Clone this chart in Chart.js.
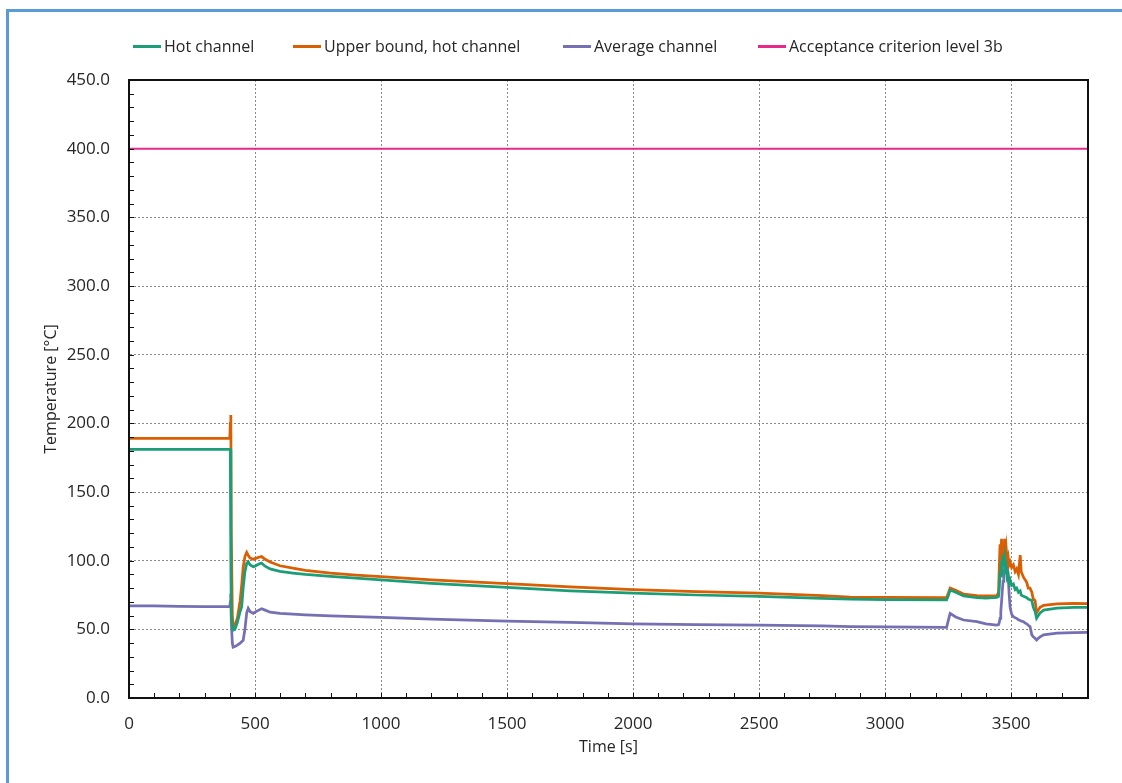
<!DOCTYPE html>
<html>
<head>
<meta charset="utf-8">
<script src="https://cdn.jsdelivr.net/npm/chart.js@4.4.1/dist/chart.umd.min.js"></script>
<style>
  html, body { margin: 0; padding: 0; background: #ffffff; overflow: hidden; }
  #wrap { position: relative; width: 1122px; height: 783px; }
  #frame { position: absolute; left: 6px; top: 9px; width: 1300px; height: 1000px; border: 3px solid #5b9bd5; box-sizing: border-box; pointer-events: none; }
  #legend { position: absolute; top: 0; left: 0; width: 1122px; height: 60px; font-family: "Open Sans", sans-serif; font-size: 16px; color: #262626; }
  .item { position: absolute; top: 35px; display: flex; align-items: center; white-space: nowrap; height: 22px; }
  .swatch { display: inline-block; width: 28px; height: 3px; margin-right: 3px; }
</style>
</head>
<body>
<div id="wrap">
  <canvas id="c" width="1122" height="783"></canvas>
  <div id="legend"></div>
  <div id="frame"></div>
</div>
<script>
// ---- data ----
const timeS = [0, 100, 200, 300, 400, 402, 404, 406, 410, 413, 420, 430, 441, 447, 453, 460, 467, 473, 480, 493, 500, 515, 526, 540, 560, 599, 650, 700, 800, 900, 1000, 1200, 1500, 1750, 2000, 2250, 2500, 2750, 2861, 3000, 3244, 3250, 3258, 3280, 3311, 3364, 3400,
  3443, 3450, 3453, 3456, 3459, 3462, 3465, 3468, 3471, 3474, 3477, 3480, 3484, 3488, 3492, 3496, 3502, 3509, 3516, 3522, 3529, 3536, 3540, 3549, 3556, 3562, 3568, 3575, 3582, 3588, 3595, 3601, 3608, 3615, 3629, 3682, 3750, 3805];

const hotChannel = [181, 181, 181, 181, 181, 181, 100, 60, 52, 49.5, 50, 55, 63, 66.5, 80, 92, 98, 99.2, 97, 95.6, 96, 97.5, 98.3, 96, 94, 92.2, 91, 90, 88.5, 87.3, 86, 83.5, 80.5, 78, 76.3, 75, 74, 72.5, 72, 71.7, 71.4, 74, 78.6, 77, 74.3, 73, 72.8,
  73.3, 74, 80, 92, 88, 100, 96, 104, 98, 102, 94, 96, 88, 90, 84, 86, 82, 83, 79, 80, 77, 78, 75, 74, 73.5, 73, 72, 71.5, 71, 66, 63, 58, 60, 62, 64, 65.5, 66, 66];

const upperBoundHot = [189, 189, 189, 189, 189, 200, 206, 120, 60, 52, 53, 58, 71, 82, 95, 103, 106, 104, 102, 101, 101.5, 102.5, 103, 101, 99, 96.3, 94.5, 93, 91, 89.5, 88.3, 86, 83.3, 81, 79, 77.5, 76.3, 74.5, 73.5, 73.3, 73, 76, 80, 78.5, 75.7, 74.5, 74.3,
  74.3, 77, 95, 112, 100, 116, 104, 113, 101, 116, 106, 110, 100, 103, 97, 99, 95, 97, 92, 94, 90, 104, 92, 88, 86, 84, 80, 80, 77, 72, 71, 62, 64, 66, 67.5, 68.5, 68.9, 68.8];

const averageChannel = [67, 67, 66.8, 66.6, 66.5, 70, 76, 55, 40, 37, 37.5, 38.5, 40, 41, 42, 50, 62, 65.3, 63, 61.6, 62.5, 64, 65, 64, 62.5, 61.7, 61, 60.5, 59.8, 59.2, 58.7, 57.5, 56, 55, 54, 53.5, 53, 52.5, 52, 51.8, 51.5, 56, 61.6, 59, 56.8, 55.6, 54,
  53.1, 53.5, 55, 58, 63, 70, 78, 85, 90, 94, 96, 98, 96, 90, 76, 66, 61, 59.2, 58.5, 58, 57, 56.5, 56, 55.6, 54.5, 54, 53, 52, 46, 44.5, 43.5, 42.2, 43.5, 44.5, 46, 47.2, 47.6, 47.8];

const criterionTime = [0, 3805];
const criterionTemp = [400, 400];

const seriesLabels = ["Hot channel", "Upper bound, hot channel", "Average channel", "Acceptance criterion level 3b"];
const seriesColors = ["#1b9e77", "#d95f02", "#7570b3", "#e7298a"];

const xTickValues = [0, 500, 1000, 1500, 2000, 2500, 3000, 3500];
const yTickValues = [0, 50, 100, 150, 200, 250, 300, 350, 400, 450];

// ---- build ----
const pts = (xs, ys) => xs.map((x, i) => ({ x: x, y: ys[i] }));

const FONT = '"Open Sans", sans-serif';
const TXT = '#262626';

const frameAndMinorTicks = {
  id: 'frameAndMinorTicks',
  afterDraw(chart) {
    const { ctx, chartArea: a, scales } = chart;
    ctx.save();
    ctx.strokeStyle = '#111';
    ctx.lineWidth = 1;
    ctx.beginPath();
    for (let v = 100; v < scales.x.max; v += 100) {
      const px = Math.round(scales.x.getPixelForValue(v)) + 0.5;
      ctx.moveTo(px, a.bottom);
      ctx.lineTo(px, a.bottom - 5);
    }
    for (let v = 10; v < scales.y.max; v += 10) {
      const py = Math.round(scales.y.getPixelForValue(v)) + 0.5;
      ctx.moveTo(a.left, py);
      ctx.lineTo(a.left + 5, py);
    }
    ctx.stroke();
    ctx.lineWidth = 2;
    ctx.strokeStyle = '#111';
    ctx.strokeRect(a.left, a.top, a.right - a.left, a.bottom - a.top);
    ctx.restore();
  }
};

const chart = new Chart(document.getElementById('c'), {
  type: 'line',
  data: {
    datasets: [
      { label: seriesLabels[0], data: pts(timeS, hotChannel), borderColor: seriesColors[0], borderWidth: 2.75 },
      { label: seriesLabels[1], data: pts(timeS, upperBoundHot), borderColor: seriesColors[1], borderWidth: 2.75 },
      { label: seriesLabels[2], data: pts(timeS, averageChannel), borderColor: seriesColors[2], borderWidth: 2.75 },
      { label: seriesLabels[3], data: pts(criterionTime, criterionTemp), borderColor: seriesColors[3], borderWidth: 2 }
    ]
  },
  options: {
    responsive: false,
    animation: false,
    devicePixelRatio: 1,
    elements: { point: { radius: 0 }, line: { tension: 0 } },
    layout: { padding: { left: 0, top: 80, right: 34, bottom: 0 } },
    plugins: { legend: { display: false }, tooltip: { enabled: false } },
    scales: {
      x: {
        type: 'linear',
        min: 0,
        max: 3805,
        afterBuildTicks(scale) { scale.ticks = xTickValues.map(v => ({ value: v })); },
        afterFit(scale) { scale.height = 85; },
        ticks: { font: { family: FONT, size: 17 }, color: TXT, padding: 16, maxRotation: 0, callback: v => String(v) },
        grid: { color: '#8a8a8a', lineWidth: 1, drawTicks: false },
        border: { display: true, color: '#111', width: 2, dash: [2, 2] },
        title: { display: true, text: 'Time [s]', font: { family: FONT, size: 16 }, color: TXT, padding: { top: 0, bottom: 26 } }
      },
      y: {
        min: 0,
        max: 450,
        afterBuildTicks(scale) { scale.ticks = yTickValues.map(v => ({ value: v })); },
        afterFit(scale) { scale.width = 129; },
        ticks: { font: { family: FONT, size: 17 }, color: TXT, padding: 19, callback: v => Number(v).toFixed(1) },
        grid: { color: '#8a8a8a', lineWidth: 1, drawTicks: false },
        border: { display: true, color: '#111', width: 2, dash: [2, 2] },
        title: { display: true, text: 'Temperature [°C]', font: { family: FONT, size: 16 }, color: TXT, padding: { top: 42, bottom: 0 } }
      }
    }
  },
  plugins: [frameAndMinorTicks]
});

// HTML legend built from the series arrays
const legendLefts = [133, 293, 563, 758];
const legend = document.getElementById('legend');
seriesLabels.forEach((lab, i) => {
  const it = document.createElement('div');
  it.className = 'item';
  it.style.left = legendLefts[i] + 'px';
  const sw = document.createElement('span');
  sw.className = 'swatch';
  sw.style.background = seriesColors[i];
  const tx = document.createElement('span');
  tx.textContent = lab;
  it.appendChild(sw);
  it.appendChild(tx);
  legend.appendChild(it);
});
</script>
</body>
</html>
